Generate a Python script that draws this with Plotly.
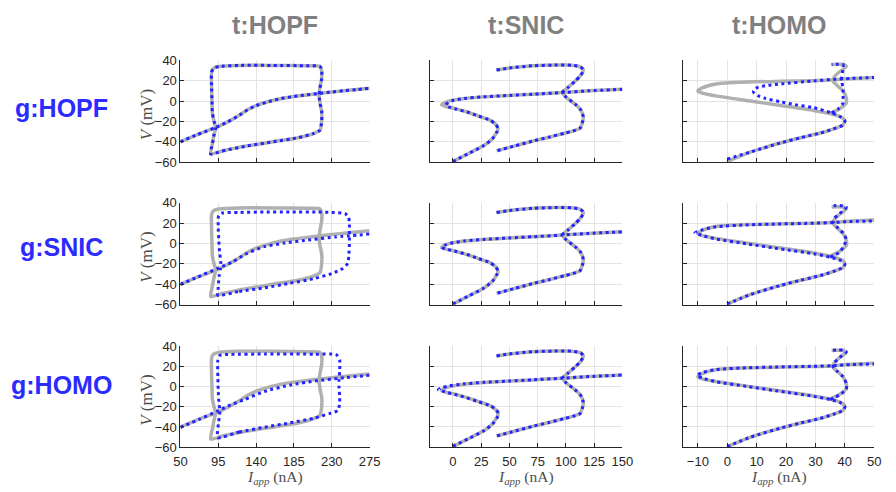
import plotly.graph_objects as go

# ---------------- data ----------------
col_titles = ["t:HOPF", "t:SNIC", "t:HOMO"]
row_titles = ["g:HOPF", "g:SNIC", "g:HOMO"]

y_ticks = [-60, -40, -20, 0, 20, 40]
x_ticks_hopf = [50, 95, 140, 185, 230, 275]
x_ticks_snic = [0, 25, 50, 75, 100, 125, 150]
x_ticks_homo = [-10, 0, 10, 20, 30, 40, 50]
x_ranges = [[50, 275], [-20, 150], [-15, 50]]
y_range = [-60, 40]

# --- target t:HOPF (gray) ---
tHOPF_rest_x = [50, 70, 92, 105, 118, 130, 140, 155, 170, 185, 200, 215, 230, 245, 260, 275]
tHOPF_rest_y = [-40, -33, -26, -21, -15, -8.5, -4.5, -0.5, 2.5, 4.5, 6, 7.5, 8.8, 10.2, 11.3, 12.5]
tHOPF_cyc_x = [86, 100, 130, 160, 190, 208, 216, 218, 218, 216, 215, 216, 218, 218, 216, 200, 160,
               120, 96, 89, 87, 87, 87.5, 88, 90, 92, 90, 88, 86]
tHOPF_cyc_y = [-52, -49, -44, -40, -36, -32, -28.5, -20, -10, -2, 6, 13, 22, 30, 34, 34.6, 35,
               35, 34, 32, 28, 15, 0, -12, -20, -26, -33, -42, -52]

# --- generated g:SNIC on t:HOPF ---
gSNIC_hopf_rest_x = [50, 70, 94, 112, 127, 150, 174, 205, 235, 275]
gSNIC_hopf_rest_y = [-40, -33, -24.5, -18, -10.5, -3, 0.5, 3.8, 6.5, 9.3]
gSNIC_hopf_cyc_x = [94.5, 120, 150, 180, 208, 230, 243, 249, 250.5, 251, 251, 251, 250, 246, 230,
                    212, 180, 150, 120, 100, 95.5, 95, 95.6, 96.5, 98, 97.5, 96, 95, 94.5]
gSNIC_hopf_cyc_y = [-50.8, -47, -43.5, -39, -34.6, -29.5, -24.5, -19.5, -10, 0, 10, 20, 26, 29.5, 30.6,
                    31, 31, 31, 30.6, 30, 27.5, 15, 4, -8, -18, -25, -32, -43, -50.8]

# --- generated g:HOMO on t:HOPF ---
gHOMO_hopf_rest_x = [50, 72, 94.5, 110, 127, 150, 181, 212, 245, 275]
gHOMO_hopf_rest_y = [-40.5, -32.5, -24, -18, -12.5, -4.7, 1.7, 5.8, 8.8, 11.3]
gHOMO_hopf_cyc_x = [94.5, 120, 150, 180, 208.5, 228, 237.5, 239.4, 239.4, 238.6, 238.6, 239.4, 239.4,
                    235.5, 210, 150, 110, 97, 94.5, 94.5, 95, 96, 97, 95.5, 94.5]
gHOMO_hopf_cyc_y = [-50.4, -45, -40.2, -36, -31.3, -26.5, -23.5, -15, -8.9, 0, 7, 15, 26.2,
                    31.6, 32.2, 32.3, 32, 31, 26, 10, -5, -18, -24, -35, -50.4]

# --- target t:SNIC (gray) ---
tSNIC_rest_x = [0, 13, 27, 35, 38.6, 40, 38, 32.8, 22, 12.5, 2, -6, -10, -7, -2, 10, 27, 50, 70.4,
                96.5, 120, 150]
tSNIC_rest_y = [-59.4, -52, -44, -37, -31, -27.6, -23, -18.7, -14.5, -10.8, -7.5, -5.5, -3.8, -1.5,
                0.3, 2.5, 4.1, 5.5, 6.7, 8.3, 10, 11.5]
tSNIC_cyc_x = [38.6, 50, 70.4, 90, 105, 113, 115.4, 113, 108, 102, 97, 100, 108, 113, 115.4, 114.5,
               112.5, 106, 99.4, 85, 70.4, 55, 38.6]
tSNIC_cyc_y = [30.5, 32.5, 34.6, 35.3, 35.2, 33.5, 30.5, 25, 19.4, 13.5, 8.5, 4, -2.9, -8.5, -15.6,
               -21.5, -26.7, -29.5, -31.4, -35.5, -39.4, -44, -48.9]

# --- generated g:HOPF on t:SNIC (shallower nose) ---
gHOPF_snic_rest_x = [0, 13, 27, 35, 38.6, 40, 38, 32.8, 22, 12.5, 3, -3, -6.4, -4, -1, 10, 27, 50,
                     70.4, 96.5, 120, 150]
gHOPF_snic_rest_y = [-59.4, -52, -44, -37, -31, -27.6, -23, -18.7, -14.5, -10.8, -8, -6, -3.8, -1.6,
                     0.2, 2.5, 4.1, 5.5, 6.7, 8.3, 10, 11.5]

# --- generated g:HOMO on t:SNIC ---
gHOMO_snic_rest_x = [0, 13, 27, 35, 39, 40.5, 38.5, 33, 22, 12, 2, -7, -13, -9, -3, 10, 27, 50, 70.4,
                     96.5, 120, 150]
gHOMO_snic_rest_y = [-59, -52, -44, -37, -31, -27.6, -23, -19, -14.8, -11, -7.8, -5.2, -3, -0.8, 0.8,
                     2.8, 4.3, 5.6, 6.8, 8.4, 10, 11.5]

# --- target t:HOMO (gray) ---
tHOMO_rest_x = [0, 8, 18.3, 25, 31.7, 36, 39.4, 40, 38.5, 35, 29.4, 18.3, 7.2, -3.9, -8.5, -10, -8.5,
                -3.9, 7.2, 18.3, 29.4, 35, 40.5, 50]
tHOMO_rest_y = [-59.4, -50, -41, -36, -31.4, -27.5, -23.5, -19.4, -15.5, -12.4, -9.2, -4.4, 0.3, 5.1,
                7.8, 10, 13, 16.8, 18.7, 19.4, 20, 20.6, 21.9, 23.2]
tHOMO_cyc_x = [35, 38, 40.5, 40.5, 39.4, 37.5, 36, 36.5, 38.3, 40.5, 39.4, 37.5, 35.5]
tHOMO_cyc_y = [-12.4, -8, -2, 3, 9.8, 15, 19.5, 24, 29, 34, 35.9, 36.2, 35.9]

# --- generated g:HOPF on t:HOMO ---
gHOPF_homo_rest_x = [0, 8, 18.3, 25, 31.7, 36, 39.4, 40, 38.5, 35.5, 29.4, 23, 18.3, 13, 10.6, 9.2,
                     8.9, 9.5, 10.6, 14, 18.3, 29.4, 37.2, 42, 50]
gHOPF_homo_rest_y = [-57, -50, -41, -36, -31.4, -27.5, -23.5, -19.4, -15.5, -11.7, -6.5, -3.5, -0.8,
                     2.5, 5, 7.5, 9.8, 12, 13.7, 15.5, 16.8, 19.8, 21.5, 22.2, 23.2]
gHOPF_homo_cyc_x = [35.5, 37.8, 39.4, 39.4, 39.4, 39, 38.9, 39.2, 39.4, 39.4, 37.5, 35.5]
gHOPF_homo_cyc_y = [-11.7, -7.6, -2, 5, 13, 18, 22.5, 28, 32, 35.9, 36.2, 35.9]

# --- generated g:SNIC on t:HOMO ---
gSNIC_homo_rest_x = [0, 8, 18.3, 25, 31.7, 36, 39.4, 40, 38.5, 35, 29.4, 18.3, 7.2, -3.9, -8.5, -11,
                     -8.5, -3.9, 7.2, 18.3, 29.4, 36, 40.5, 50]
gSNIC_homo_rest_y = [-59.4, -50, -41, -36, -31.4, -27.5, -23.5, -20.5, -16.5, -13.3, -10, -5.4, -0.5,
                     4.5, 8, 10.5, 13.5, 16.5, 18.4, 19.3, 20, 20.6, 21.5, 22.2]
gSNIC_homo_cyc_x = [35, 38, 39.4, 40.5, 39.5, 37.2, 36, 36.5, 38.3, 40.5, 38.3, 35]
gSNIC_homo_cyc_y = [-13.3, -9, -3.8, 4.1, 10, 16.8, 21.6, 25, 29.5, 35.9, 37.5, 36.8]

# --- generated g:HOMO on t:HOMO ---
gHOMO_homo_rest_x = [0, 8, 18.3, 25, 31.7, 36, 39.4, 40, 38.5, 35, 29.4, 18.3, 7.2, -3.9, -8.5, -10.3,
                     -8.5, -3.9, 7.2, 18.3, 29.4, 36, 40.5, 50]
gHOMO_homo_rest_y = [-59.4, -50, -41, -36, -31.4, -27.5, -23.5, -20, -16, -12.8, -9.6, -4.8, 0,
                     5, 8.6, 11.2, 14, 17, 18.8, 19.6, 20.2, 20.8, 21.7, 22.5]
gHOMO_homo_cyc_x = [35, 38, 40.5, 40.5, 39.4, 37.5, 36, 36.5, 38.3, 40.5, 39.4, 37.5, 35.5]
gHOMO_homo_cyc_y = [-12.8, -8.5, -2.5, 3, 9.8, 15, 20, 24, 29, 34.5, 36.2, 36.3, 36]

# per panel: (target curves, generated curves)
targets = [
    [(tHOPF_rest_x, tHOPF_rest_y), (tHOPF_cyc_x, tHOPF_cyc_y)],
    [(tSNIC_rest_x, tSNIC_rest_y), (tSNIC_cyc_x, tSNIC_cyc_y)],
    [(tHOMO_rest_x, tHOMO_rest_y), (tHOMO_cyc_x, tHOMO_cyc_y)],
]
generated = [
    [  # g:HOPF row
        [(tHOPF_rest_x, tHOPF_rest_y), (tHOPF_cyc_x, tHOPF_cyc_y)],
        [(gHOPF_snic_rest_x, gHOPF_snic_rest_y), (tSNIC_cyc_x, tSNIC_cyc_y)],
        [(gHOPF_homo_rest_x, gHOPF_homo_rest_y), (gHOPF_homo_cyc_x, gHOPF_homo_cyc_y)],
    ],
    [  # g:SNIC row
        [(gSNIC_hopf_rest_x, gSNIC_hopf_rest_y), (gSNIC_hopf_cyc_x, gSNIC_hopf_cyc_y)],
        [(tSNIC_rest_x, tSNIC_rest_y), (tSNIC_cyc_x, tSNIC_cyc_y)],
        [(gSNIC_homo_rest_x, gSNIC_homo_rest_y), (gSNIC_homo_cyc_x, gSNIC_homo_cyc_y)],
    ],
    [  # g:HOMO row
        [(gHOMO_hopf_rest_x, gHOMO_hopf_rest_y), (gHOMO_hopf_cyc_x, gHOMO_hopf_cyc_y)],
        [(gHOMO_snic_rest_x, gHOMO_snic_rest_y), (tSNIC_cyc_x, tSNIC_cyc_y)],
        [(gHOMO_homo_rest_x, gHOMO_homo_rest_y), (gHOMO_homo_cyc_x, gHOMO_homo_cyc_y)],
    ],
]
x_tick_sets = [x_ticks_hopf, x_ticks_snic, x_ticks_homo]

# ---------------- layout ----------------
W, H = 896, 492
col_px = [(177, 370), (432, 628), (690, 885)]
row_px = [(55, 160), (202, 307), (350, 454)]

GRAY = "#b0b0b0"
BLUE = "#2323ff"
TICK_FONT = dict(family="Liberation Sans, Arial, sans-serif", size=13, color="#262626")

fig = go.Figure()
layout = dict(
    width=W, height=H, margin=dict(l=0, r=0, t=0, b=0),
    paper_bgcolor="white", plot_bgcolor="white", showlegend=False,
)

for r in range(3):
    for c in range(3):
        n = r * 3 + c + 1
        xs = "" if n == 1 else str(n)
        xref, yref = "x" + xs, "y" + xs
        for (tx, ty) in targets[c]:
            fig.add_trace(go.Scatter(x=tx, y=ty, mode="lines", xaxis=xref, yaxis=yref,
                                     line=dict(color=GRAY, width=3.5, shape="spline", smoothing=0.6),
                                     hoverinfo="skip"))
        for (gx, gy) in generated[r][c]:
            fig.add_trace(go.Scatter(x=gx, y=gy, mode="lines", xaxis=xref, yaxis=yref,
                                     line=dict(color=BLUE, width=3, dash="3px,3.5px",
                                               shape="spline", smoothing=0.6),
                                     hoverinfo="skip"))
        x0, x1 = col_px[c]
        y0, y1 = row_px[r]
        layout["xaxis" + xs] = dict(
            domain=[x0 / W, x1 / W], anchor=yref, range=x_ranges[c],
            tickmode="array", tickvals=x_tick_sets[c], showticklabels=(r == 2),
            ticks="inside", ticklen=4, tickcolor="#262626", tickfont=TICK_FONT,
            ticklabelstandoff=2,
            showgrid=True, gridcolor="#e3e3e3", gridwidth=1, zeroline=False,
            showline=True, linecolor="#262626", linewidth=1, mirror=False,
        )
        layout["yaxis" + xs] = dict(
            domain=[1 - y1 / H, 1 - y0 / H], anchor=xref, range=y_range,
            tickmode="array", tickvals=y_ticks, showticklabels=(c == 0),
            ticks="inside", ticklen=4, tickcolor="#262626", tickfont=TICK_FONT,
            showgrid=True, gridcolor="#e3e3e3", gridwidth=1, zeroline=False,
            showline=True, linecolor="#262626", linewidth=1, mirror=False,
        )

annotations = []
col_centers = [273, 530, 788]
for c, t in enumerate(col_titles):
    annotations.append(dict(
        x=col_centers[c] / W, y=1 - 19 / H, xref="paper", yref="paper", text="<b>%s</b>" % t,
        showarrow=False, xanchor="center", yanchor="middle",
        font=dict(family="Liberation Sans, Arial, sans-serif", size=25, color="#808080")))
row_label_y = [104, 248, 390]
for r, t in enumerate(row_titles):
    annotations.append(dict(
        x=56 / W, y=1 - row_label_y[r] / H, xref="paper", yref="paper", text="<b>%s</b>" % t,
        showarrow=False, xanchor="center", yanchor="middle",
        font=dict(family="Liberation Sans, Arial, sans-serif", size=25, color="#2b2bff")))
SERIF = "Liberation Serif, Times New Roman, serif"
for r in range(3):
    yc = (row_px[r][0] + row_px[r][1]) / 2 + 4
    annotations.append(dict(
        x=142 / W, y=1 - yc / H, xref="paper", yref="paper", text="<i>V</i> (mV)",
        textangle=-90, showarrow=False, xanchor="center", yanchor="middle",
        font=dict(family=SERIF, size=17, color="#4d4d4d")))
for c in range(3):
    xc = (col_px[c][0] + col_px[c][1]) / 2
    annotations.append(dict(
        x=xc / W, y=1 - 485 / H, xref="paper", yref="paper",
        text="<i>I</i><sub><i>app</i></sub> (nA)",
        showarrow=False, xanchor="center", yanchor="middle",
        font=dict(family=SERIF, size=15.5, color="#4d4d4d")))
layout["annotations"] = annotations

fig.update_layout(**layout)
fig.write_html("out.html")
